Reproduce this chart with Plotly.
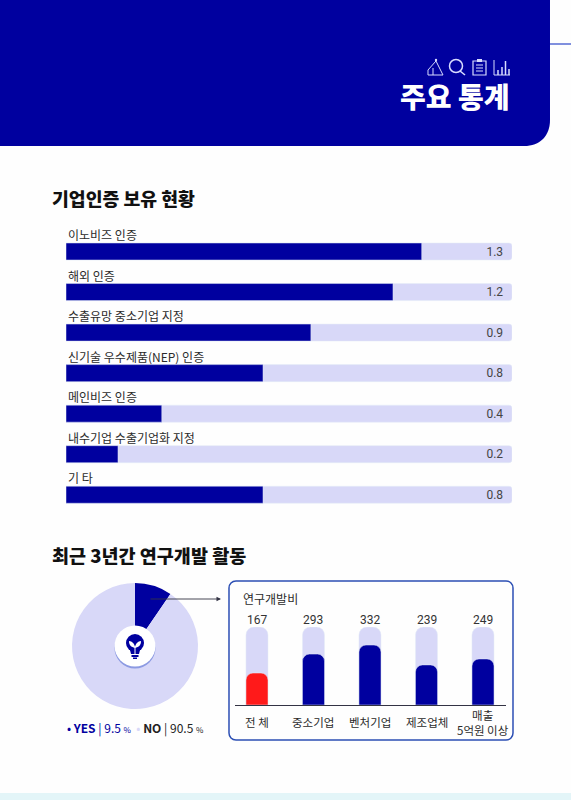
import plotly.graph_objects as go

W = 571
H = 800
KR = "Noto Sans CJK KR"
NAVY = "#00009f"
PALE = "#d8d8f8"
TEXT = "#2b2b2b"

# certification chart
cert_names = ["이노비즈 인증", "해외 인증", "수출유망 중소기업 지정", "신기술 우수제품(NEP) 인증",
              "메인비즈 인증", "내수기업 수출기업화 지정", "기 타"]
cert_labels = ["1.3", "1.2", "0.9", "0.8", "0.4", "0.2", "0.8"]
# drawn lengths, they don't follow the printed labels exactly
cert_lengths = [1.30, 1.195, 0.895, 0.72, 0.35, 0.19, 0.72]
cert_track = [1.63] * 7

# r&d pie
rd_answers = ["YES", "NO"]
rd_shares = [9.5, 90.5]

# r&d spending chart
spend_names = ["전 체", "중소기업", "벤처기업", "제조업체", "매출<br>5억원 이상"]
spend_labels = ["167", "293", "332", "239", "249"]
spend_lengths = [177, 282, 332, 222, 255]
spend_track = [432] * 5


def px(x):
    return x / W


def py(y):
    return 1 - y / H


def path(*parts):
    # M/L/C/Z parts given in page pixels, top-left origin
    out = []
    for p in parts:
        if isinstance(p, str):
            out.append(p)
        else:
            out.append(f"{px(p[0]):.5f},{py(p[1]):.5f}")
    return " ".join(out)


def shape_path(d, fill=None, line=None, width=1, layer="above"):
    return dict(type="path", xref="paper", yref="paper", path=d, fillcolor=fill or "rgba(0,0,0,0)",
                line=dict(color=line or "rgba(0,0,0,0)", width=width if line else 0), layer=layer)


def shape_circle(cx, cy, r, fill=None, line=None, width=1, layer="above"):
    return dict(type="circle", xref="paper", yref="paper", x0=px(cx - r), x1=px(cx + r),
                y0=py(cy + r), y1=py(cy - r), fillcolor=fill or "rgba(0,0,0,0)",
                line=dict(color=line or "rgba(0,0,0,0)", width=width if line else 0), layer=layer)


def shape_line(x0, y0, x1, y1, color, width=1):
    return dict(type="line", xref="paper", yref="paper", x0=px(x0), x1=px(x1), y0=py(y0), y1=py(y1),
                line=dict(color=color, width=width), layer="above")


def shape_rect(x0, y0, x1, y1, fill, layer="above"):
    return dict(type="rect", xref="paper", yref="paper", x0=px(x0), x1=px(x1), y0=py(y1), y1=py(y0),
                fillcolor=fill, line=dict(width=0), layer=layer)


ICON = "#d8dcff"
shapes = [
    # header block
    shape_path(path("M", (0, 0), "L", (550, 0), "L", (550, 120), "C", (550, 136), (540, 146), (524, 146),
                    "L", (0, 146), "Z"), fill=NAVY, layer="below"),
    shape_line(550, 44, 571, 44, "#2a45c8", 1.2),
    shape_rect(0, 793, 571, 800, "#e3f5f8", layer="below"),
    # header icons
    shape_path(path("M", (428, 75), "L", (428, 70), "L", (436, 61), "L", (443, 75), "Z",
                    "M", (433, 75), "L", (433, 68)), line=ICON, width=1),
    shape_circle(436, 60, 1.2, fill=ICON),
    shape_circle(456, 66, 6.5, line=ICON, width=1.5),
    shape_line(460, 71, 465, 75, ICON, 1.6),
    shape_path(path("M", (473, 61), "L", (486, 61), "L", (486, 75), "L", (473, 75), "Z"), line=ICON, width=1.2),
    shape_line(476, 65, 483, 65, ICON, 1),
    shape_line(476, 68, 483, 68, ICON, 1),
    shape_line(476, 71, 483, 71, ICON, 1),
    shape_rect(477, 59, 482, 62, ICON),
    shape_line(494, 60, 494, 75, ICON, 1),
    shape_line(494, 75, 510, 75, ICON, 1),
    shape_line(498, 70, 498, 75, ICON, 1.5),
    shape_line(502, 67, 502, 75, ICON, 1.5),
    shape_line(505.5, 61, 505.5, 75, ICON, 1.5),
    shape_line(509, 69, 509, 75, ICON, 1.5),
    # frame around spending chart
    shape_path(path("M", (236, 581), "L", (506, 581), "C", (510, 581), (513, 584), (513, 588),
                    "L", (513, 733), "C", (513, 737), (510, 740), (506, 740),
                    "L", (236, 740), "C", (232, 740), (229, 737), (229, 733),
                    "L", (229, 588), "C", (229, 584), (232, 581), (236, 581), "Z"),
               line="#2c4fb4", width=1.5, layer="below"),
    # bulb in the pie centre
    shape_circle(135, 648, 20.5, fill="#8c9ae2"),
    shape_circle(135, 646, 20.5, fill="white"),
    shape_circle(135, 643, 9, fill=NAVY),
    shape_path(path("M", (129.5, 648), "L", (140.5, 648), "L", (139, 654), "L", (131, 654), "Z"), fill=NAVY),
    shape_rect(131.5, 655, 138.5, 657, NAVY),
    shape_rect(133, 657.5, 137, 659, NAVY),
    shape_path(path("M", (135, 648), "C", (135, 644), (132, 641), (129, 641),
                    "C", (129, 645), (131, 647), (135, 648), "Z"), fill="white"),
    shape_path(path("M", (135, 648), "C", (135, 644), (138, 641), (141, 641),
                    "C", (141, 645), (139, 647), (135, 648), "Z"), fill="white"),
    shape_line(135, 646, 135, 654, "white", 1),
]

annotations = []


def page_text(x, y, text, size, color=TEXT, anchor="left", weight=400):
    annotations.append(dict(xref="paper", yref="paper", x=px(x), y=py(y), text=text, showarrow=False,
                            xanchor=anchor, yanchor="middle",
                            font=dict(family=KR, size=size, color=color, weight=weight)))


page_text(511, 96, "주요 통계", 28, "white", "right", 900)
page_text(50, 198, "기업인증 보유 현황", 18.3, "#111111", weight=900)
page_text(50, 555, "최근 3년간 연구개발 활동", 18.5, "#111111", weight=900)
page_text(241, 598, "연구개발비", 12)

for name in cert_names:
    annotations.append(dict(xref="x", yref="y", x=0, y=name, yshift=17, text=name, showarrow=False,
                            xanchor="left", yanchor="middle",
                            font=dict(family=KR, size=12, color=TEXT)))

for name in spend_names:
    annotations.append(dict(xref="x2", yref="paper", x=name, y=py(722), text=name, showarrow=False,
                            xanchor="center", yanchor="middle", align="center",
                            font=dict(family=KR, size=11.5, color=TEXT)))

for name, label, top in zip(spend_names, spend_labels, spend_track):
    annotations.append(dict(xref="x2", yref="y2", x=name, y=top, yshift=7.5, text=label, showarrow=False,
                            xanchor="center", yanchor="middle",
                            font=dict(family="Roboto", size=12, color="#333333")))

legend_text = (
    f'<span style="color:{NAVY}">• <b>YES</b> | {rd_shares[0]} <span style="font-size:8px">%</span></span>'
    f'<span style="color:{PALE}">  • </span>'
    f'<span style="color:#222222"><b>NO</b> | {rd_shares[1]} <span style="font-size:8px">%</span></span>'
)
page_text(65, 728, legend_text, 12)

# arrow from pie wedge to the spending frame
annotations.append(dict(xref="paper", yref="paper", x=px(221), y=py(599), ax=-72, ay=0,
                        axref="pixel", ayref="pixel", text="", showarrow=True, arrowhead=2, arrowsize=1,
                        arrowwidth=0.9, arrowcolor="#333344"))

fig = go.Figure()

fig.add_trace(go.Bar(y=cert_names, x=cert_track, orientation="h", xaxis="x", yaxis="y", width=0.42,
                     marker=dict(color=PALE, cornerradius=3), text=cert_labels,
                     texttemplate="%{text}\u00a0\u00a0", textposition="inside",
                     insidetextanchor="end", textangle=0, constraintext="none",
                     textfont=dict(family="Roboto", size=12, color="#444444"), hoverinfo="skip"))
fig.add_trace(go.Bar(y=cert_names, x=cert_lengths, orientation="h", xaxis="x", yaxis="y", width=0.42,
                     marker=dict(color=NAVY), hoverinfo="skip"))

fig.add_trace(go.Pie(labels=rd_answers, values=rd_shares, sort=False, direction="clockwise", rotation=0,
                     hole=0.3, textinfo="none", marker=dict(colors=[NAVY, PALE], line=dict(width=0)),
                     domain=dict(x=[px(72), px(198)], y=[py(709), py(583)]), showlegend=False,
                     hoverinfo="skip"))

fig.add_trace(go.Bar(x=spend_names, y=spend_track, xaxis="x2", yaxis="y2", width=0.39,
                     marker=dict(color=PALE, cornerradius=8), hoverinfo="skip"))
# own overlaying axes, on the shared ones the rounded top only goes to the tallest bar
fig.add_trace(go.Bar(x=spend_names, y=spend_lengths, xaxis="x3", yaxis="y3", width=0.39,
                     marker=dict(color=["#ff1a1a", NAVY, NAVY, NAVY, NAVY], cornerradius=7),
                     hoverinfo="skip"))

spend_x = dict(domain=[px(235), px(506)], type="category", categoryorder="array", categoryarray=spend_names,
               range=[-0.389, 4.407], showticklabels=False, ticks="", showgrid=False, zeroline=False)

fig.update_layout(
    width=W, height=H, margin=dict(l=0, r=0, t=0, b=0), paper_bgcolor="#fefefe", plot_bgcolor="rgba(0,0,0,0)",
    barmode="overlay", showlegend=False, shapes=shapes, annotations=annotations,
    xaxis=dict(domain=[px(66), px(512)], range=[0, 1.63], visible=False, anchor="y"),
    yaxis=dict(domain=[py(515), py(231.25)], type="category", categoryorder="array", categoryarray=cert_names,
               range=[6.5, -0.5], visible=False, anchor="x"),
    xaxis2=dict(**spend_x, showline=False, anchor="y2"),
    yaxis2=dict(domain=[py(705), py(627)], range=[0, 432], visible=False, anchor="x2"),
    xaxis3=dict(**spend_x, showline=True, linecolor="#333344", linewidth=1.3, anchor="y3", overlaying="x2"),
    yaxis3=dict(domain=[py(705), py(627)], range=[0, 432], visible=False, anchor="x3", overlaying="y2"),
)

# browsers add a margin to body, the page has to start at 0,0
fig.write_html("out.html", config={"displayModeBar": False},
               post_script="document.body.style.margin = '0'; document.body.style.overflow = 'hidden';")
